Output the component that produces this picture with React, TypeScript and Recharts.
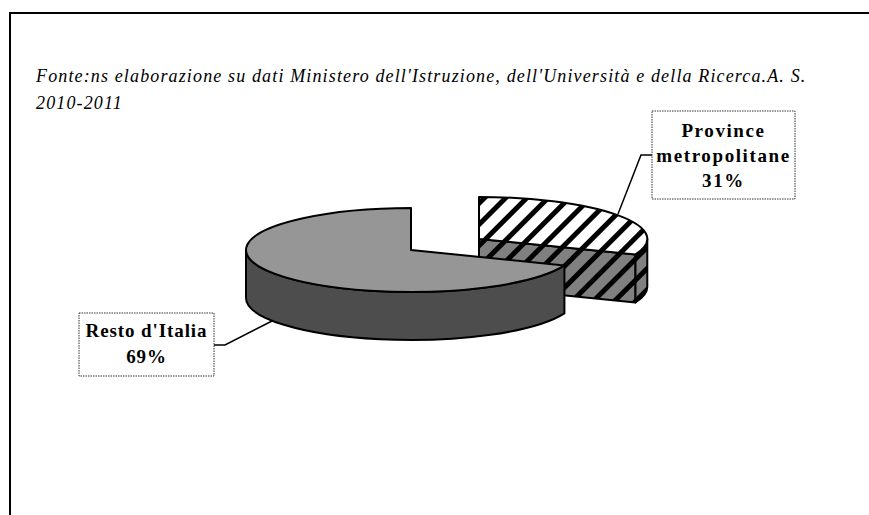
import { PieChart, Pie } from 'recharts';

const categories = ['Province metropolitane', 'Resto d\'Italia'];
const shares = [31, 69];
const sourceLines = [
  "Fonte:ns elaborazione su dati Ministero dell'Istruzione, dell'Università e della Ricerca.A. S.",
  '2010-2011',
];

const data = categories.map((name, i) => ({ name, value: shares[i] }));

const WIDTH = 869;
const HEIGHT = 515;
const SQUASH = 42 / 165;
const DEPTH = 48;
const SERIF = '"Liberation Serif", "Times New Roman", serif';

// per slice look, same order as categories
const sliceStyles = [
  { dx: 68, dy: -11, grow: 1.02, top: 'url(#hatchTop)', side: 'url(#hatchSide)' },
  { dx: 0, dy: 0, grow: 1, top: '#969696', side: '#4d4d4d' },
];

const labelBoxes = [
  { x: 652, y: 111, w: 143, h: 88, lines: ['Province', 'metropolitane'], first: 137, step: 25, spacing: 1.6, leader: '652,155 641,155 618,214' },
  { x: 79, y: 313, w: 135, h: 63, lines: ["Resto d'Italia"], first: 337, step: 26, spacing: 0.9, leader: '214,345 225,345 272,321' },
];

const rad = (a: number) => (a * Math.PI) / 180;

function Slice3D(props: any) {
  const { cx, cy, outerRadius, startAngle, endAngle, index } = props;
  const s = sliceStyles[index];
  const rx = outerRadius * s.grow;
  const ry = outerRadius * SQUASH;
  const ox = cx + s.dx;
  const oy = cy + s.dy;
  const pt = (a: number) => [ox + rx * Math.cos(rad(a)), oy - ry * Math.sin(rad(a))];
  const lo = Math.min(startAngle, endAngle);
  const hi = Math.max(startAngle, endAngle);
  const [sx, sy] = pt(lo);
  const [ex, ey] = pt(hi);
  const large = hi - lo > 180 ? 1 : 0;
  const top = `M${ox},${oy} L${sx},${sy} A${rx},${ry} 0 ${large} 0 ${ex},${ey} Z`;

  // front part of the rim, below the horizontal axis of the ellipse
  const frontFrom = lo < 0 ? lo : Math.max(lo, 180);
  const frontTo = lo < 0 ? Math.min(hi, 0) : Math.min(hi, 360);
  const [fx, fy] = pt(frontFrom);
  const [tx, ty] = pt(frontTo);
  const rim = `M${fx},${fy} A${rx},${ry} 0 0 0 ${tx},${ty} L${tx},${ty + DEPTH} A${rx},${ry} 0 0 1 ${fx},${fy + DEPTH} Z`;
  const cut = `M${ox},${oy} L${sx},${sy} L${sx},${sy + DEPTH} L${ox},${oy + DEPTH} Z`;

  return (
    <g stroke="#000" strokeWidth={2} strokeLinejoin="round">
      {lo < 0 && <path d={cut} fill={s.side} />}
      <path d={rim} fill={s.side} />
      <path d={top} fill={s.top} />
    </g>
  );
}

function BoxLabel(props: any) {
  const { index, percent } = props;
  const b = labelBoxes[index];
  const lines = [...b.lines, `${Math.round(percent * 100)}%`];
  const mid = b.x + b.w / 2;
  return (
    <g>
      <polyline points={b.leader} fill="none" stroke="#000" strokeWidth={1.5} />
      <rect x={b.x} y={b.y} width={b.w} height={b.h} fill="#fff" stroke="#333" strokeWidth={1} strokeDasharray="1.5 1" />
      {lines.map((line, i) => (
        <text
          key={line}
          x={mid}
          y={b.first + i * b.step}
          textAnchor="middle"
          fontFamily={SERIF}
          fontWeight="bold"
          fontSize={19}
          letterSpacing={b.spacing}
          fill="#000"
        >
          {line}
        </text>
      ))}
    </g>
  );
}

export default function App() {
  return (
    <div style={{ position: 'fixed', left: 0, top: 0, width: WIDTH, height: HEIGHT, background: '#fff', overflow: 'hidden' }}>
      <div
        style={{
          position: 'absolute',
          left: 9,
          top: 12,
          width: WIDTH,
          height: HEIGHT,
          borderTop: '2px solid #000',
          borderLeft: '2px solid #000',
        }}
      />
      {sourceLines.map((line, i) => (
        <div
          key={line}
          style={{
            position: 'absolute',
            left: 36,
            top: 64 + i * 27,
            fontFamily: SERIF,
            fontStyle: 'italic',
            fontSize: 18,
            letterSpacing: 1.14,
            lineHeight: '24px',
            whiteSpace: 'nowrap',
            color: '#000',
          }}
        >
          {line}
        </div>
      ))}
      <div style={{ position: 'absolute', left: 0, top: 0 }}>
        <PieChart width={WIDTH} height={HEIGHT} margin={{ top: 0, right: 0, bottom: 0, left: 0 }}>
          <defs>
            <pattern id="hatchTop" patternUnits="userSpaceOnUse" width={15} height={15} patternTransform="rotate(45)">
              <rect width={15} height={15} fill="#fff" />
              <rect width={5} height={15} fill="#000" />
            </pattern>
            <pattern id="hatchSide" patternUnits="userSpaceOnUse" width={15} height={15} patternTransform="rotate(45)">
              <rect width={15} height={15} fill="#808080" />
              <rect width={5} height={15} fill="#000" />
            </pattern>
          </defs>
          <Pie
            data={data}
            dataKey="value"
            nameKey="name"
            cx={411}
            cy={250}
            innerRadius={0}
            outerRadius={165}
            startAngle={90 - (shares[0] / 100) * 360}
            endAngle={450 - (shares[0] / 100) * 360}
            shape={Slice3D}
            label={BoxLabel}
            labelLine={false}
            isAnimationActive={false}
          />
        </PieChart>
      </div>
    </div>
  );
}
